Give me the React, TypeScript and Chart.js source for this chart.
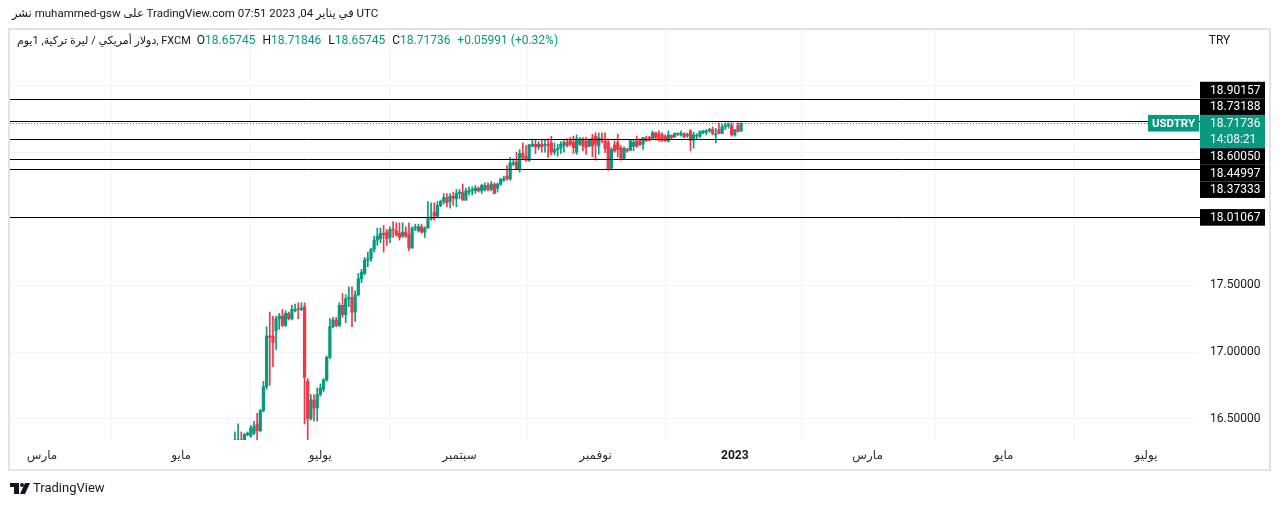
import React, { useEffect, useRef } from 'react';
import { Chart, registerables } from 'chart.js';

Chart.register(...registerables);

// ---------- data ----------
const FIRST_DATE = '2022-05-25';
const AXIS_ORIGIN = '2022-03-01';

const opens = [
  16.33, 16.32, 16.34, 16.33, 16.38, 16.37, 16.39, 16.46, 16.41, 16.56,
  16.74, 17.12, 17.12, 17.16, 17.25, 17.27, 17.20, 17.29, 17.25, 17.31,
  17.32, 17.32, 17.34, 16.78, 16.50, 16.64, 16.58, 16.68, 16.72, 16.79,
  16.96, 17.19, 17.24, 17.20, 17.35, 17.28, 17.40, 17.41, 17.30, 17.43,
  17.55, 17.59, 17.69, 17.70, 17.77, 17.84, 17.85, 17.89, 17.90, 17.86,
  17.92, 17.91, 17.89, 17.87, 17.90, 17.88, 17.78, 17.93, 17.91, 17.94,
  17.90, 17.93, 18.00, 18.05, 18.02, 18.10, 18.13, 18.16, 18.13, 18.17,
  18.15, 18.19, 18.20, 18.14, 18.20, 18.21, 18.21, 18.23, 18.21, 18.22,
  18.25, 18.22, 18.26, 18.23, 18.26, 18.29, 18.32, 18.30, 18.41, 18.43,
  18.37, 18.49, 18.47, 18.44, 18.545, 18.56, 18.54, 18.56, 18.55, 18.56,
  18.57, 18.50, 18.52, 18.53, 18.55, 18.575, 18.59, 18.575, 18.50, 18.56,
  18.59, 18.584, 18.546, 18.604, 18.62, 18.546, 18.60, 18.584, 18.572, 18.38,
  18.554, 18.572, 18.53, 18.455, 18.52, 18.515, 18.545, 18.585, 18.585, 18.56,
  18.60, 18.61, 18.605, 18.645, 18.64, 18.63, 18.62, 18.585, 18.625, 18.615,
  18.635, 18.63, 18.64, 18.625, 18.66, 18.59, 18.62, 18.62, 18.645, 18.65,
  18.66, 18.67, 18.63, 18.67, 18.64, 18.69, 18.70, 18.70, 18.63, 18.70,
  18.65745,
];
const highs = [
  16.40, 16.46, 16.40, 16.39, 16.40, 16.45, 16.48, 16.54, 16.57, 16.78,
  17.19, 17.30, 17.27, 17.27, 17.29, 17.32, 17.31, 17.30, 17.35, 17.36,
  17.37, 17.37, 17.37, 16.80, 16.68, 16.68, 16.73, 16.76, 16.80, 16.97,
  17.25, 17.26, 17.26, 17.37, 17.44, 17.43, 17.49, 17.49, 17.46, 17.59,
  17.62, 17.71, 17.75, 17.78, 17.87, 17.93, 17.93, 17.95, 17.92, 17.94,
  17.98, 17.97, 17.97, 17.97, 17.94, 17.97, 17.94, 17.96, 17.96, 17.96,
  17.94, 18.13, 18.12, 18.12, 18.13, 18.14, 18.19, 18.19, 18.19, 18.20,
  18.22, 18.22, 18.26, 18.23, 18.24, 18.24, 18.25, 18.24, 18.26, 18.27,
  18.27, 18.28, 18.27, 18.27, 18.30, 18.32, 18.40, 18.46, 18.45, 18.50,
  18.52, 18.57, 18.55, 18.56, 18.60, 18.59, 18.58, 18.59, 18.59, 18.60,
  18.62, 18.57, 18.56, 18.58, 18.59, 18.60, 18.61, 18.62, 18.63, 18.61,
  18.61, 18.609, 18.60, 18.634, 18.646, 18.646, 18.646, 18.646, 18.60, 18.535,
  18.584, 18.635, 18.55, 18.54, 18.53, 18.59, 18.59, 18.62, 18.60, 18.61,
  18.62, 18.62, 18.66, 18.65, 18.66, 18.645, 18.63, 18.66, 18.63, 18.645,
  18.645, 18.66, 18.645, 18.645, 18.67, 18.65, 18.64, 18.66, 18.665, 18.67,
  18.68, 18.69, 18.68, 18.72, 18.71, 18.72, 18.72, 18.72, 18.67, 18.72,
  18.71846,
];
const lows = [
  16.30, 16.30, 16.30, 16.32, 16.37, 16.36, 16.38, 16.30, 16.40, 16.55,
  16.72, 16.75, 16.89, 17.02, 17.17, 17.19, 17.19, 17.24, 17.24, 17.30,
  17.25, 17.31, 16.46, 16.31, 16.49, 16.48, 16.48, 16.67, 16.70, 16.78,
  16.95, 17.18, 17.19, 17.19, 17.26, 17.22, 17.34, 17.19, 17.23, 17.42,
  17.52, 17.58, 17.64, 17.68, 17.75, 17.80, 17.82, 17.75, 17.80, 17.82,
  17.86, 17.87, 17.84, 17.86, 17.86, 17.76, 17.78, 17.91, 17.90, 17.89,
  17.86, 17.93, 17.99, 17.99, 18.01, 18.09, 18.11, 18.09, 18.08, 18.10,
  18.09, 18.15, 18.14, 18.14, 18.18, 18.18, 18.19, 18.20, 18.19, 18.21,
  18.21, 18.21, 18.19, 18.20, 18.25, 18.28, 18.29, 18.29, 18.40, 18.37,
  18.35, 18.45, 18.43, 18.43, 18.54, 18.49, 18.52, 18.50, 18.50, 18.46,
  18.48, 18.48, 18.47, 18.49, 18.50, 18.54, 18.55, 18.49, 18.484, 18.55,
  18.51, 18.484, 18.54, 18.466, 18.44, 18.484, 18.57, 18.496, 18.363, 18.375,
  18.50, 18.464, 18.44, 18.45, 18.50, 18.51, 18.51, 18.535, 18.55, 18.52,
  18.58, 18.585, 18.60, 18.59, 18.585, 18.58, 18.58, 18.575, 18.60, 18.61,
  18.625, 18.62, 18.61, 18.61, 18.51, 18.53, 18.60, 18.61, 18.64, 18.63,
  18.65, 18.63, 18.57, 18.64, 18.64, 18.67, 18.68, 18.62, 18.62, 18.65,
  18.65745,
];
const closes = [
  16.34, 16.34, 16.32, 16.38, 16.39, 16.43, 16.44, 16.41, 16.56, 16.74,
  17.12, 17.11, 17.07, 17.25, 17.27, 17.20, 17.29, 17.25, 17.32, 17.32,
  17.318, 17.33, 16.81, 16.50, 16.64, 16.58, 16.68, 16.73, 16.79, 16.96,
  17.19, 17.24, 17.20, 17.35, 17.28, 17.40, 17.41, 17.30, 17.43, 17.55,
  17.60, 17.69, 17.70, 17.77, 17.84, 17.87, 17.89, 17.88, 17.85, 17.92,
  17.915, 17.88, 17.86, 17.90, 17.87, 17.78, 17.93, 17.932, 17.94, 17.90,
  17.93, 18.00, 18.01, 18.02, 18.10, 18.13, 18.16, 18.12, 18.17, 18.155,
  18.19, 18.20, 18.14, 18.21, 18.21, 18.22, 18.23, 18.21, 18.25, 18.25,
  18.22, 18.26, 18.19, 18.26, 18.30, 18.30, 18.30, 18.42, 18.42, 18.37,
  18.49, 18.46, 18.44, 18.555, 18.56, 18.54, 18.56, 18.54, 18.56, 18.55,
  18.50, 18.52, 18.522, 18.56, 18.575, 18.55, 18.56, 18.535, 18.60, 18.60,
  18.546, 18.534, 18.596, 18.546, 18.56, 18.609, 18.59, 18.529, 18.372, 18.52,
  18.509, 18.52, 18.455, 18.53, 18.51, 18.585, 18.575, 18.545, 18.555, 18.61,
  18.585, 18.59, 18.646, 18.61, 18.59, 18.585, 18.585, 18.63, 18.61, 18.64,
  18.636, 18.64, 18.615, 18.627, 18.59, 18.63, 18.622, 18.655, 18.66, 18.66,
  18.67, 18.64, 18.633, 18.64, 18.69, 18.70, 18.702, 18.63, 18.67, 18.65745,
  18.71736,
];

const monthTickDates = ['2022-03-01', '2022-05-01', '2022-07-01', '2022-09-01', '2022-11-01', '2023-01-01', '2023-03-01', '2023-05-01', '2023-07-01'];
const monthTickLabels = ['مارس', 'مايو', 'يوليو', 'سبتمبر', 'نوفمبر', '2023', 'مارس', 'مايو', 'يوليو'];
const boldTickLabels = ['2023'];
const yTickValues = [16.5, 17, 17.5, 18, 18.5, 19];
const levelLines = [18.90157, 18.73188, 18.6005, 18.44997, 18.37333, 18.01067];

const symbolName = 'USDTRY';
const currencyLabel = 'TRY';
const countdownText = '14:08:21';
const titleText = 'نشر muhammed-gsw على TradingView.com في يناير 04, 2023 07:51 UTC';
const legendSymbolText = 'دولار أمريكي / ليرة تركية, 1يوم, FXCM';
const brandText = 'TradingView';

// ---------- styling ----------
const UP = '#089981';
const DOWN = '#f23645';
const GRID = '#f0f3fa';
const TEXT = '#131722';
const FONT = "Roboto, 'DejaVu Sans', sans-serif";
const BOX_H = 16.6;

function weekdayIndex(dateStr: string): number {
  const [oy, om, od] = AXIS_ORIGIN.split('-').map(Number);
  const [y, m, d] = dateStr.split('-').map(Number);
  const origin = Date.UTC(oy, om - 1, od);
  const target = Date.UTC(y, m - 1, d);
  let count = 0;
  for (let t = origin; t < target; t += 86400000) {
    const wd = new Date(t).getUTCDay();
    if (wd !== 0 && wd !== 6) count++;
  }
  return count;
}

// stack the price-axis labels around the fixed main (last price) label
function layoutBoxes(ys: any, lastClose: number) {
  const h = BOX_H;
  const mainY = ys.getPixelForValue(lastClose);
  const items = levelLines.map((v) => ({ v, y: ys.getPixelForValue(v), cy: 0 }));
  const above = items.filter((l) => l.v > lastClose).sort((a, b) => b.y - a.y);
  let limit = mainY - h / 2;
  above.forEach((l) => {
    l.cy = Math.min(l.y, limit - h / 2);
    limit = l.cy - h / 2;
  });
  const below = items.filter((l) => l.v <= lastClose).sort((a, b) => a.y - b.y);
  limit = mainY - h / 2 + 2 * h;
  below.forEach((l) => {
    l.cy = Math.max(l.y, limit + h / 2);
    limit = l.cy + h / 2;
  });
  const spans = items.map((l) => [l.cy - h / 2, l.cy + h / 2]);
  spans.push([mainY - h / 2, mainY + 1.5 * h]);
  return { mainY, items, spans };
}

const X_PER_BAR = 1104 / 349;

export default function App() {
  const ref = useRef<HTMLCanvasElement | null>(null);

  useEffect(() => {
    if (!ref.current) return;
    const first = weekdayIndex(FIRST_DATE);
    const xs = opens.map((_, k) => first + k);
    const colors = closes.map((c, k) => (c >= opens[k] ? UP : DOWN));
    const tickVals = monthTickDates.map(weekdayIndex);
    const labelFor = (v: number) => {
      const i = tickVals.indexOf(Math.round(v));
      return i >= 0 ? monthTickLabels[i] : '';
    };
    const last = closes.length - 1;
    const lastClose = closes[last];

    const xMin = tickVals[0] - 32 / X_PER_BAR;
    const xMax = tickVals[tickVals.length - 1] + 52 / X_PER_BAR;
    const yMin = 17 - 88 / 133.2;
    const yMax = 17 + 322 / 133.2;

    const overlay = {
      id: 'overlay',
      afterDatasetsDraw(chart: any) {
        const { ctx, chartArea, scales } = chart;
        const ys = scales.y;
        ctx.save();
        ctx.strokeStyle = '#000';
        ctx.lineWidth = 1;
        levelLines.forEach((v) => {
          const y = Math.round(ys.getPixelForValue(v)) + 0.5;
          ctx.beginPath();
          ctx.moveTo(chartArea.left, y);
          ctx.lineTo(chartArea.right + 2, y);
          ctx.stroke();
        });
        const ly = Math.round(ys.getPixelForValue(lastClose)) + 0.5;
        ctx.strokeStyle = UP;
        ctx.setLineDash([1, 2]);
        ctx.beginPath();
        ctx.moveTo(chartArea.left, ly);
        ctx.lineTo(chartArea.right - 50, ly);
        ctx.stroke();
        ctx.restore();
      },
      afterDraw(chart: any) {
        const { ctx, chartArea, scales } = chart;
        const ys = scales.y;
        ctx.save();
        ctx.strokeStyle = '#e0e3eb';
        ctx.lineWidth = 2;
        ctx.strokeRect(9, 29, 1261, 441);

        const h = BOX_H;
        const boxL = ys.left + 2;
        const boxW = 65;
        const textX = ys.left + 12;
        const { mainY, items } = layoutBoxes(ys, lastClose);
        ctx.font = `12px ${FONT}`;
        ctx.textBaseline = 'middle';
        ctx.textAlign = 'left';
        items.forEach((l) => {
          ctx.fillStyle = '#000';
          ctx.fillRect(boxL, l.cy - h / 2, boxW, h);
          ctx.fillStyle = '#fff';
          ctx.fillText(l.v.toFixed(5), textX, l.cy + 0.5);
        });
        ctx.fillStyle = UP;
        ctx.fillRect(boxL, mainY - h / 2, boxW, 2 * h);
        ctx.fillRect(chartArea.right - 50, mainY - h / 2, 51, h);
        ctx.fillStyle = '#fff';
        ctx.fillText(lastClose.toFixed(5), textX, mainY + 0.5);
        ctx.fillText(countdownText, textX, mainY + h + 0.5);
        ctx.font = `bold 11.5px ${FONT}`;
        ctx.textAlign = 'center';
        ctx.fillText(symbolName, chartArea.right - 24.5, mainY + 0.5);

        ctx.fillStyle = TEXT;
        ctx.font = `12px ${FONT}`;
        ctx.textAlign = 'center';
        ctx.fillText(currencyLabel, ys.left + 21.5, 41);

        ctx.direction = 'ltr';
        ctx.textAlign = 'left';
        ctx.fillStyle = TEXT;
        ctx.font = `11.5px ${FONT}`;
        ctx.fillText(titleText, 12, 14);

        ctx.font = `11px ${FONT}`;
        ctx.fillText(legendSymbolText, 17, 41);
        let px = 17 + ctx.measureText(legendSymbolText).width + 6;
        ctx.font = `12px ${FONT}`;
        const prev = closes[last - 1];
        const chg = lastClose - prev;
        const pct = (chg / prev) * 100;
        const parts: [string, string, number][] = [
          ['O', TEXT, 0], [opens[last].toFixed(5), UP, 7],
          ['H', TEXT, 0], [highs[last].toFixed(5), UP, 7],
          ['L', TEXT, 0], [lows[last].toFixed(5), UP, 7],
          ['C', TEXT, 0], [lastClose.toFixed(5), UP, 7],
          [`${chg >= 0 ? '+' : ''}${chg.toFixed(5)} (${chg >= 0 ? '+' : ''}${pct.toFixed(2)}%)`, UP, 0],
        ];
        parts.forEach(([t, c, gap]) => {
          ctx.fillStyle = c;
          ctx.fillText(t, px, 41);
          px += ctx.measureText(t).width + gap;
        });

        ctx.fillStyle = TEXT;
        ctx.fillRect(10, 483, 9, 4);
        ctx.fillRect(14, 483, 5, 11);
        ctx.beginPath();
        ctx.arc(22, 485, 2, 0, Math.PI * 2);
        ctx.fill();
        ctx.beginPath();
        ctx.moveTo(25, 483);
        ctx.lineTo(30, 483);
        ctx.lineTo(25, 494);
        ctx.lineTo(20, 494);
        ctx.closePath();
        ctx.fill();
        ctx.font = `13px ${FONT}`;
        ctx.fillText(brandText, 33, 489);
        ctx.restore();
      },
    };

    const chart = new Chart(ref.current, {
      type: 'bar',
      data: {
        datasets: [
          {
            label: 'body',
            data: xs.map((x, k) => ({ x, y: [Math.min(opens[k], closes[k]), Math.max(opens[k], closes[k])] })),
            backgroundColor: colors,
            borderWidth: 0,
            barThickness: 2.6,
            minBarLength: 1,
            grouped: false,
            order: 0,
          } as any,
          {
            label: 'wick',
            data: xs.map((x, k) => ({ x, y: [lows[k], highs[k]] })),
            backgroundColor: colors,
            borderWidth: 0,
            barThickness: 1,
            grouped: false,
            order: 1,
          } as any,
        ],
      },
      options: {
        animation: false,
        responsive: false,
        maintainAspectRatio: false,
        layout: { padding: { left: 10, right: 10, top: 30, bottom: 36 } },
        plugins: { legend: { display: false }, tooltip: { enabled: false } },
        scales: {
          x: {
            type: 'linear',
            min: xMin,
            max: xMax,
            offset: false,
            grid: { color: GRID, drawTicks: false },
            border: { display: false },
            afterBuildTicks: (s: any) => {
              s.ticks = tickVals.map((v) => ({ value: v }));
            },
            afterFit: (s: any) => {
              s.height = 30;
            },
            ticks: {
              autoSkip: false,
              maxRotation: 0,
              padding: 9,
              color: (c: any) => (boldTickLabels.includes(labelFor(c.tick?.value)) ? TEXT : '#2a2e39'),
              font: (c: any) => ({
                family: FONT,
                size: 12,
                weight: boldTickLabels.includes(labelFor(c.tick?.value)) ? 'bold' : 'normal',
              }),
              callback: (v: any) => labelFor(Number(v)),
            },
          } as any,
          y: {
            position: 'right',
            min: yMin,
            max: yMax,
            grid: { color: GRID, drawTicks: false },
            border: { display: false },
            afterBuildTicks: (s: any) => {
              s.ticks = yTickValues.map((v) => ({ value: v }));
            },
            afterFit: (s: any) => {
              s.width = 72;
            },
            ticks: {
              padding: 12,
              font: { family: FONT, size: 12 },
              color: (c: any) => {
                const ys = c.chart.scales.y;
                if (!ys || c.tick == null) return TEXT;
                const py = ys.getPixelForValue(c.tick.value);
                const { spans } = layoutBoxes(ys, lastClose);
                const hidden = spans.some(([a, b]) => py + 7 > a && py - 7 < b);
                return hidden ? 'rgba(0,0,0,0)' : TEXT;
              },
              callback: (v: any) => Number(v).toFixed(5),
            },
          } as any,
        },
      },
      plugins: [overlay],
    });
    return () => chart.destroy();
  }, []);

  return (
    <div style={{ position: 'absolute', left: 0, top: 0, width: 1280, height: 506, background: '#fff' }}>
      <canvas ref={ref} width={1280} height={506} style={{ display: 'block', width: 1280, height: 506 }} />
    </div>
  );
}
